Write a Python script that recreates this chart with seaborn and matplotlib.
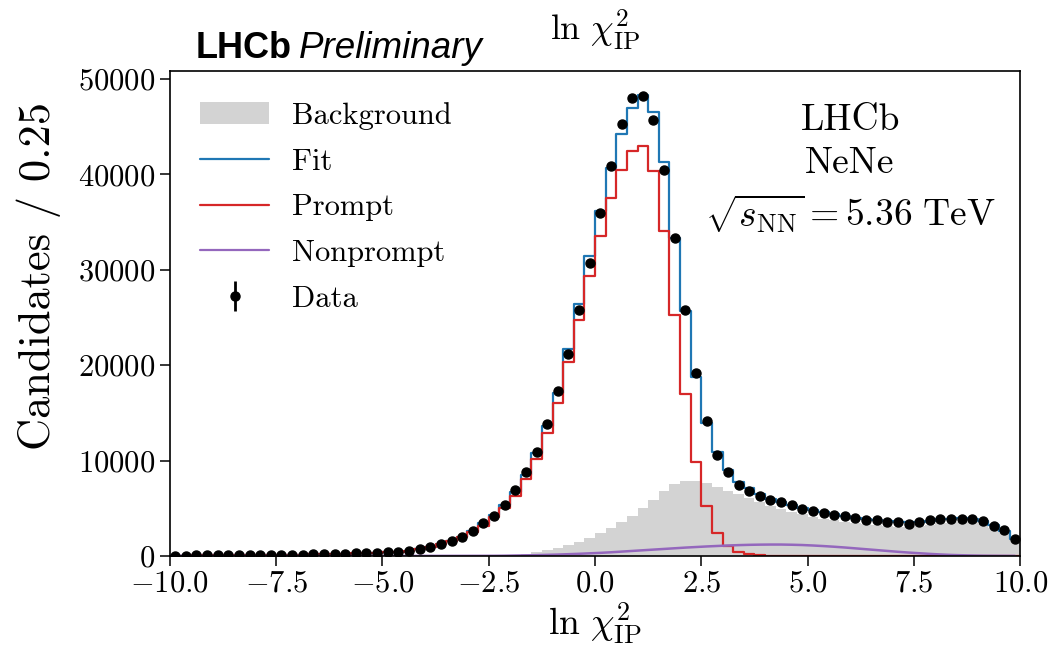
import numpy as np
import pandas as pd
import seaborn as sns
import matplotlib
matplotlib.use("Agg")
import matplotlib.pyplot as plt
from matplotlib.patches import Patch
from matplotlib.lines import Line2D

# 80 bins of width 0.25 between -10 and 10
bin_edges = list(np.linspace(-10, 10, 81))
bin_centers = [(a + b) / 2 for a, b in zip(bin_edges[:-1], bin_edges[1:])]

data_counts = [
    40, 40, 50, 50, 60, 60, 70, 80, 90, 100,
    110, 120, 140, 160, 180, 210, 240, 270, 310, 350,
    390, 430, 520, 700, 980, 1260, 1570, 1990, 2620, 3420,
    4190, 5310, 6950, 8790, 10930, 13840, 17260, 21140, 25790, 30680,
    35990, 40850, 45320, 47970, 48180, 45700, 40500, 33370, 25790, 19150,
    14100, 10590, 8770, 7470, 6850, 6250, 5870, 5630, 5350, 4960,
    4720, 4540, 4330, 4160, 3950, 3770, 3740, 3530, 3530, 3350,
    3600, 3740, 3910, 3910, 3880, 3910, 3640, 3140, 2690, 1780,
]

fit_counts = [
    40, 40, 50, 50, 60, 60, 70, 80, 90, 100,
    110, 120, 140, 160, 180, 210, 240, 270, 310, 350,
    390, 440, 530, 720, 970, 1250, 1580, 2020, 2650, 3450,
    4250, 5350, 6670, 8490, 10760, 13660, 17120, 21730, 26400, 31480,
    36200, 40700, 44200, 46930, 48320, 46580, 41330, 33370, 25700, 18800,
    13970, 10870, 9010, 7790, 7100, 6450, 6000, 5650, 5350, 5050,
    4780, 4560, 4360, 4180, 4020, 3880, 3760, 3660, 3580, 3550,
    3600, 3700, 3820, 3900, 3930, 3880, 3650, 3200, 2600, 1800,
]

prompt_counts = [
    40, 40, 50, 50, 60, 60, 70, 80, 90, 100,
    110, 120, 140, 160, 180, 200, 230, 260, 300, 340,
    380, 420, 500, 680, 930, 1200, 1520, 1940, 2480, 3180,
    4120, 5000, 6290, 8040, 10130, 12860, 16070, 20370, 24740, 29380,
    33570, 37560, 40460, 42450, 42980, 40360, 34100, 25260, 16920, 9800,
    5200, 2380, 1050, 380, 160, 60, 20, 5, 0, 0,
    0, 0, 0, 0, 0, 0, 0, 0, 0, 0,
    0, 0, 0, 0, 0, 0, 0, 0, 0, 0,
]

background_counts = [
    0, 0, 0, 0, 0, 0, 0, 0, 0, 0,
    0, 0, 0, 0, 0, 0, 0, 0, 0, 0,
    0, 0, 0, 0, 0, 0, 0, 0, 0, 5,
    15, 40, 80, 220, 360, 570, 840, 1120, 1430, 1860,
    2370, 2930, 3550, 4200, 5000, 5900, 6800, 7500, 7850, 7900,
    7600, 7270, 6850, 6450, 6050, 5650, 5250, 4900, 4600, 4350,
    4120, 3920, 3750, 3600, 3450, 3320, 3220, 3120, 3050, 3020,
    3100, 3250, 3400, 3500, 3550, 3550, 3350, 2900, 2450, 1600,
]

nonprompt_counts = [
    0, 0, 0, 0, 0, 0, 0, 0, 0, 0,
    0, 0, 0, 0, 0, 0, 0, 0, 0, 0,
    0, 0, 0, 0, 0, 0, 2, 3, 5, 7,
    10, 20, 40, 60, 80, 110, 140, 180, 220, 270,
    320, 380, 450, 520, 590, 660, 730, 800, 870, 930,
    990, 1040, 1090, 1130, 1160, 1180, 1190, 1190, 1170, 1140,
    1090, 1030, 960, 880, 790, 700, 610, 520, 430, 350,
    280, 210, 150, 100, 70, 40, 20, 10, 5, 0,
]

df = pd.DataFrame({
    "x": bin_centers,
    "data": data_counts,
    "fit": fit_counts,
    "prompt": prompt_counts,
    "background": background_counts,
    "nonprompt": nonprompt_counts,
})

sns.set_style("ticks", {"axes.edgecolor": "black", "xtick.color": "black",
                        "ytick.color": "black", "text.color": "black",
                        "axes.labelcolor": "black"})
plt.rcParams["font.family"] = ["cmr10", "DejaVu Serif"]
plt.rcParams["mathtext.fontset"] = "cm"
plt.rcParams["axes.formatter.use_mathtext"] = True

fig = plt.figure(figsize=(10.55, 6.54), dpi=100)
ax = fig.add_axes([0.161, 0.150, 0.806, 0.741])

bkg_color = "lightgray"
fit_color = "#1f77b4"
prompt_color = "#d62728"
nonprompt_color = "#9467bd"

sns.histplot(data=df, x="x", weights="background", bins=bin_edges,
             element="step", fill=True, color=bkg_color, alpha=1,
             linewidth=0, ax=ax)
sns.histplot(data=df, x="x", weights="fit", bins=bin_edges,
             element="step", fill=False, color=fit_color, linewidth=1.6, ax=ax)
sns.histplot(data=df, x="x", weights="prompt", bins=bin_edges,
             element="step", fill=False, color=prompt_color, linewidth=1.6, ax=ax)
sns.lineplot(data=df, x="x", y="nonprompt", color=nonprompt_color,
             linewidth=1.8, ax=ax)
data_err = ax.errorbar(df["x"], df["data"], yerr=np.sqrt(df["data"]),
                       fmt="o", color="black", markersize=6.5, elinewidth=2,
                       capsize=0, zorder=5)

ax.set_xlim(-10, 10)
ax.set_ylim(0, 50800)
ax.set_xticks(np.arange(-10, 10.1, 2.5))
ax.set_yticks(np.arange(0, 50001, 10000))
ax.tick_params(labelsize=22, length=7, width=1.1)
ax.xaxis.set_major_formatter(matplotlib.ticker.StrMethodFormatter(r"${x:.1f}$"))
ax.yaxis.set_major_formatter(matplotlib.ticker.StrMethodFormatter(r"${x:.0f}$"))
for sp in ax.spines.values():
    sp.set_linewidth(1.2)

ax.set_xlabel(r"$\ln\,\chi^2_{\mathrm{IP}}$", fontsize=27, labelpad=2)
ax.set_ylabel("Candidates / 0.25", fontsize=32)
ax.yaxis.set_label_coords(-0.128, 0.577)
ax.set_title(r"$\ln\,\chi^2_{\mathrm{IP}}$", fontsize=26, pad=22)

handles = [
    Patch(facecolor=bkg_color, edgecolor="none"),
    Line2D([], [], color=fit_color, linewidth=1.6),
    Line2D([], [], color=prompt_color, linewidth=1.6),
    Line2D([], [], color=nonprompt_color, linewidth=1.6),
    data_err,
]
labels = ["Background", "Fit", "Prompt", "Nonprompt", "Data"]
ax.legend(handles, labels, loc="upper left", frameon=False, fontsize=22,
          handlelength=2.25, handletextpad=0.75, labelspacing=0.6,
          borderaxespad=0.6)

ax.text(0.8, 0.898, "LHCb", transform=ax.transAxes, ha="center", va="center",
        fontsize=27)
ax.text(0.8, 0.811, "NeNe", transform=ax.transAxes, ha="center", va="center",
        fontsize=27)
ax.text(0.8, 0.705, r"$\sqrt{s_{\mathrm{NN}}}=5.36\ \mathrm{TeV}$",
        transform=ax.transAxes, ha="center", va="center", fontsize=27)

fig.text(0.185, 0.926, "LHCb", fontsize=26, fontweight="bold",
         family=["Liberation Sans", "DejaVu Sans"], ha="left", va="center")
fig.text(0.2835, 0.926, "Preliminary", fontsize=26.5, fontstyle="italic",
         family=["Liberation Sans", "DejaVu Sans"], ha="left", va="center")

fig.savefig("out.png", dpi=100)
